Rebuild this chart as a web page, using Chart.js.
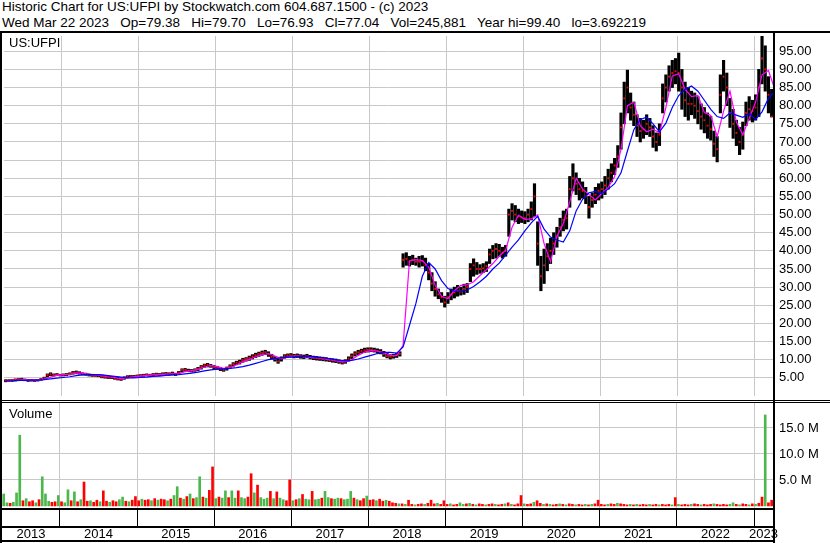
<!DOCTYPE html>
<html>
<head>
<meta charset="utf-8">
<script src="https://cdn.jsdelivr.net/npm/chart.js@4.4.0/dist/chart.umd.min.js"></script>
<style>
  body { margin: 0; background: #fff; width: 830px; height: 543px; position: relative; overflow: hidden; font-family: Arial, "Liberation Sans", sans-serif; }
  .txt { position: absolute; font-size: 13px; line-height: 15px; color: #000; white-space: pre; }
  .hd { font-size: 13.5px; }
  .ln { position: absolute; background: #000; }
  canvas { position: absolute; left: 0; }
</style>
</head>
<body>
<div class="txt hd" style="left:2px;top:-1px">Historic Chart for US:UFPI by Stockwatch.com 604.687.1500 - (c) 2023</div>
<div class="txt hd" style="left:2px;top:15px">Wed Mar 22 2023   Op=79.38   Hi=79.70   Lo=76.93   Cl=77.04   Vol=245,881   Year hi=99.40   lo=3.692219</div>

<canvas id="price" width="830" height="368" style="top:32px"></canvas>
<canvas id="vol" width="830" height="140" style="top:403px"></canvas>

<div class="txt" style="left:9px;top:35px">US:UFPI</div>
<div class="txt" style="left:9px;top:406px">Volume</div>

<!-- frame -->
<div class="ln" style="left:0;top:31px;width:830px;height:2px"></div>
<div class="ln" style="left:0;top:31px;width:2px;height:512px"></div>
<div class="ln" style="left:773px;top:31px;width:2px;height:512px"></div>
<div class="ln" style="left:0;top:400px;width:830px;height:1px"></div>
<div class="ln" style="left:0;top:402px;width:830px;height:1px"></div>
<div class="ln" style="left:0;top:508px;width:775px;height:2px"></div>
<div class="ln" style="left:0;top:526px;width:775px;height:2px"></div>
<div class="ln" style="left:0;top:540px;width:775px;height:2px"></div>

<script>
// x axis range in years
const xMin = 2013.248, xMax = 2023.246;
const yearTicks = [2014, 2015, 2016, 2017, 2018, 2019, 2020, 2021, 2022, 2023];
const yearLabels = ['2013', '2014', '2015', '2016', '2017', '2018', '2019', '2020', '2021', '2022', '2023'];
const priceTicks = [5, 10, 15, 20, 25, 30, 35, 40, 45, 50, 55, 60, 65, 70, 75, 80, 85, 90, 95];
const volTicks = [5, 10, 15];

// half-month bars starting mid March 2013
const barStart = 2013.27, barStep = 1 / 24;
const priceLo = [
  3.9,4.0,4.0,4.1,4.2,4.3,4.2,4.0,4.1,4.0,4.1,4.3,4.5,5.2,5.6,5.5,5.6,5.5,
  5.5,5.6,5.8,6.0,6.1,6.0,5.8,5.7,5.5,5.4,5.4,5.3,5.0,4.9,4.8,4.8,4.6,4.4,4.3,4.6,5.0,5.2,5.1,5.2,
  5.3,5.4,5.5,5.4,5.6,5.7,5.6,5.7,5.8,5.7,5.8,5.6,6.0,6.6,6.8,6.7,6.6,6.8,7.0,7.4,7.9,8.0,7.9,7.5,
  7.3,7.0,6.8,7.1,7.6,8.2,8.6,8.8,9.3,9.6,9.8,10.2,10.6,10.9,11.2,11.4,10.9,10.2,9.6,9.0,9.6,10.4,10.6,10.7,
  10.5,10.6,10.4,10.3,10.5,10.2,10.0,9.9,9.8,9.7,9.6,9.5,9.3,9.2,9.0,8.8,9.0,9.6,10.3,11.0,11.4,11.8,12.0,12.1,
  12.2,12.1,11.9,11.6,10.9,10.5,10.2,10.4,10.6,11.0,35.5,36.0,35.8,36.2,36.0,35.5,35.8,34.5,32.0,29.0,27.5,26.8,25.8,24.5,
  25.5,26.5,27.0,27.5,27.8,28.0,28.5,31.5,33.0,33.5,33.8,34.0,34.3,36.5,37.8,38.0,38.5,38.0,38.5,44.0,48.5,48.0,47.5,47.8,
  47.5,48.0,48.5,49.5,36.0,29.0,31.0,34.5,36.5,39.0,41.0,44.0,45.5,46.0,52.0,56.5,55.5,54.0,54.5,53.0,49.0,52.0,53.0,54.0,
  54.5,55.5,57.0,59.0,61.0,63.0,68.0,75.0,78.0,76.0,74.5,71.5,70.0,71.0,72.0,71.5,68.5,67.5,69.0,78.0,81.0,84.0,85.0,86.0,
  84.0,79.0,77.0,76.0,77.5,76.5,75.0,73.5,72.5,71.0,70.5,66.0,64.5,78.0,84.0,80.0,74.0,71.0,69.0,66.5,68.0,74.5,76.0,75.5,
  76.0,77.0,86.0,84.0,78.0,76.9
];
const priceHi = [
  4.5,4.5,4.6,4.7,4.8,4.9,4.7,4.6,4.6,4.5,4.6,4.8,5.2,6.1,6.4,6.1,6.2,6.0,
  6.1,6.2,6.4,6.8,6.9,6.7,6.4,6.3,6.1,6.0,5.9,5.9,5.8,5.6,5.5,5.4,5.3,5.2,5.0,5.3,5.6,5.7,5.7,5.8,
  5.9,6.0,6.1,6.0,6.2,6.3,6.2,6.4,6.5,6.4,6.6,6.3,6.8,7.5,7.6,7.4,7.3,7.5,7.9,8.4,8.8,9.0,8.7,8.4,
  8.2,7.9,7.6,8.0,8.6,9.2,9.6,9.9,10.4,10.6,11.0,11.4,11.8,12.1,12.4,12.6,12.2,11.5,10.9,10.2,10.8,11.4,11.6,11.7,
  11.5,11.6,11.4,11.3,11.5,11.2,11.0,10.9,10.8,10.7,10.6,10.4,10.3,10.2,10.0,9.7,10.0,10.8,11.6,12.2,12.6,12.9,13.2,13.3,
  13.3,13.2,13.0,12.8,12.3,11.8,11.4,11.5,11.8,12.2,39.2,39.5,38.5,38.8,38.0,38.5,38.7,38.0,36.5,34.0,31.5,29.5,28.5,27.5,
  28.5,29.5,30.0,30.5,30.0,30.8,31.0,36.5,37.8,36.8,36.2,36.5,37.0,40.5,41.5,42.0,41.8,41.0,41.5,51.5,53.0,52.5,51.5,51.0,
  50.8,51.5,53.5,58.5,48.0,38.5,40.5,42.0,43.5,45.0,46.5,49.0,51.0,51.5,60.5,64.0,61.5,60.0,59.0,57.5,55.0,56.0,57.5,58.5,
  59.0,60.5,62.5,64.0,65.5,69.0,78.0,86.5,89.8,83.5,81.0,77.5,76.5,76.0,77.5,76.5,74.5,72.5,75.0,86.0,88.5,91.0,92.5,93.0,
  94.5,90.0,86.5,85.0,84.0,83.5,82.5,80.5,79.5,78.0,77.0,73.0,71.5,88.5,92.5,89.0,82.0,79.0,76.0,74.0,75.5,81.0,82.5,81.5,
  83.0,90.0,99.4,96.5,88.0,84.5
];
const priceCl = [
  4.3,4.2,4.4,4.5,4.5,4.6,4.4,4.3,4.3,4.2,4.4,4.6,4.9,5.8,6.0,5.8,5.9,5.7,
  5.8,5.9,6.1,6.5,6.5,6.3,6.1,6.0,5.8,5.7,5.6,5.6,5.3,5.2,5.1,5.1,4.9,4.7,4.6,5.0,5.3,5.5,5.4,5.5,
  5.6,5.7,5.8,5.7,5.9,6.0,5.9,6.1,6.2,6.0,6.2,5.9,6.5,7.2,7.2,7.0,6.9,7.2,7.5,8.0,8.5,8.6,8.3,7.9,
  7.7,7.4,7.2,7.6,8.2,8.8,9.2,9.4,9.9,10.2,10.5,10.9,11.3,11.6,11.9,12.1,11.5,10.8,10.2,9.5,10.3,11.0,11.2,11.2,
  11.0,11.1,10.9,10.8,11.0,10.7,10.5,10.4,10.3,10.2,10.1,9.9,9.8,9.7,9.5,9.2,9.5,10.3,11.0,11.7,12.0,12.4,12.6,12.7,
  12.8,12.6,12.4,12.1,11.5,11.0,10.8,11.0,11.3,11.6,37.5,37.8,37.0,37.5,37.0,37.0,37.2,36.0,34.0,31.0,29.5,28.0,27.2,25.8,
  27.2,28.0,28.5,29.0,28.8,29.5,30.0,35.0,36.0,35.0,35.0,35.2,35.8,39.0,40.0,40.5,40.0,39.5,40.0,50.0,51.0,50.0,49.5,49.2,
  49.0,50.0,51.5,55.0,42.0,33.0,36.0,38.5,40.0,42.0,44.0,46.5,48.5,49.0,57.0,60.0,58.5,57.0,56.5,55.0,52.0,54.0,55.5,56.5,
  57.0,58.0,60.0,61.5,63.5,66.0,74.0,82.0,85.0,79.5,77.5,74.5,73.0,73.5,75.0,74.0,71.5,70.0,72.0,82.0,85.0,88.0,89.0,89.5,
  89.0,85.0,81.5,80.5,80.5,80.0,78.5,77.0,76.0,74.5,73.5,69.5,68.0,83.0,88.0,85.0,78.0,75.0,72.5,70.0,72.0,78.0,79.0,78.5,
  79.5,85.0,93.0,90.0,83.0,77.0
];

// moving averages, one value per month
const maStep = 1 / 12;
const maFast = [
  4.2,4.3,4.4,4.5,4.4,4.4,4.6,5.2,5.7,5.9,6.0,6.3,6.3,6.0,5.8,5.6,5.3,5.1,4.8,5.0,
  5.3,5.5,5.7,5.8,5.9,6.0,6.1,6.2,6.7,7.0,7.3,8.0,8.4,8.1,7.6,7.8,8.6,9.4,10.1,10.8,
  11.4,11.7,11.0,10.3,10.7,11.0,11.0,10.8,10.6,10.4,10.2,9.9,9.6,9.4,10.0,11.2,12.1,12.5,12.4,11.9,
  11.2,11.1,14.0,37.2,37.6,37.3,35.5,30.5,27.5,26.8,29.0,30.5,30.6,31.5,33.2,34.8,36.5,38.5,40.2,46.5,
  49.8,48.7,48.8,49.8,42.0,37.0,44.0,47.5,53.5,60.0,57.0,55.5,54.0,55.8,57.5,60.5,68.0,80.0,81.0,74.5,
  72.8,73.5,72.5,79.5,88.2,88.8,84.5,82.5,82.8,78.1,77.3,71.5,78.5,84.0,75.5,72.0,76.5,81.0,88.5,89.7,
  84.5
];
const maSlow = [
  4.2,4.2,4.3,4.3,4.4,4.4,4.5,4.7,4.9,5.1,5.3,5.6,5.8,5.9,5.9,5.8,5.6,5.4,5.2,5.0,
  5.0,5.1,5.2,5.4,5.5,5.7,5.8,5.9,6.1,6.3,6.6,6.9,7.2,7.4,7.5,7.6,7.8,8.1,8.5,9.0,
  9.5,10.0,10.3,10.5,10.7,10.8,10.9,10.9,10.8,10.6,10.4,10.1,9.8,9.7,9.8,10.2,10.7,11.2,11.7,12.0,
  12.0,11.8,13.5,19.5,25.5,33.0,36.8,35.0,31.8,29.6,28.9,28.8,29.2,30.2,31.5,33.0,35.0,36.6,38.8,41.0,
  43.0,45.5,47.7,49.5,46.0,43.8,43.0,42.4,45.5,51.0,54.2,56.0,56.4,55.8,57.0,58.5,61.5,67.5,73.4,76.2,
  76.8,75.0,72.8,75.2,79.5,82.8,84.5,85.4,84.0,81.5,79.0,77.0,76.5,78.0,77.4,76.8,77.8,76.2,78.3,82.0,
  84.0
];

// volume in millions, same half-month bars; g = up, r = down
const volume = [
  2.3,0.6,0.5,0.7,2.5,13.6,1.0,1.4,0.8,1.0,0.6,1.2,5.6,2.3,0.9,0.7,0.8,2.0,
  0.8,0.6,3.1,1.0,2.7,0.8,1.2,4.6,0.9,1.0,0.7,1.1,0.8,2.9,0.9,0.7,1.0,0.8,1.2,1.7,0.9,0.8,1.1,1.8,
  1.0,1.3,1.1,1.2,1.0,1.4,1.1,1.3,1.2,1.0,1.3,2.0,3.7,1.5,1.3,1.8,2.3,1.4,1.6,5.6,1.7,1.5,3.0,7.5,
  1.4,1.7,1.5,2.9,1.6,2.9,1.5,2.9,1.6,1.4,1.7,6.2,2.5,4.0,1.6,1.3,1.5,2.8,1.4,2.7,1.5,1.2,1.0,5.0,
  1.0,1.2,1.4,2.2,1.3,1.2,2.8,1.2,1.3,1.5,2.8,1.6,1.4,1.3,1.5,1.4,1.2,1.3,2.8,1.5,1.2,1.0,1.4,1.9,
  1.1,1.2,1.0,1.3,0.9,1.1,0.9,0.6,0.5,0.4,0.4,0.3,1.1,0.3,0.2,0.3,0.4,0.3,0.5,1.1,0.4,0.5,0.3,1.0,
  0.3,0.4,0.2,0.3,0.6,0.3,0.4,0.5,0.3,0.2,0.4,0.3,0.2,0.3,0.4,0.3,0.2,0.3,0.4,0.6,0.3,0.2,0.4,2.0,
  0.4,0.3,0.4,0.7,1.0,0.5,0.3,0.4,0.3,0.2,0.3,0.4,0.3,0.2,0.4,0.3,0.2,0.3,0.2,0.3,0.2,0.3,0.4,1.1,
  0.3,0.2,0.3,0.4,0.3,0.5,0.4,0.3,0.2,0.3,0.2,0.3,0.2,0.3,0.2,0.3,0.2,0.3,0.2,0.3,0.2,0.3,0.2,1.6,
  0.3,0.2,0.3,0.2,0.3,0.4,0.3,0.2,0.3,0.2,0.3,0.4,0.3,0.2,0.3,0.2,0.3,0.6,0.3,0.2,0.4,0.3,0.2,0.4,
  0.3,0.5,1.7,17.5,0.6,1.1
];
const volDir =
  'ggrgggrgrrgrgggrrg' +
  'rggrgrgrrgrrgrrgrrggrgrr' +
  'rgrrgrgrrgrggrgrgrggrgrr' +
  'grggrggrggrrgrgggrgrggrr' +
  'grgrggrggrggrggrgggrgrrg' +
  'rrgrrgrrrgrgrrgrrgrrrgrr' +
  'rgrrggrgrgrrgrrgrrgrgrrr' +
  'grrgrrgrgrrgrgrrgrrgrgrr' +
  'rrgrrgrrrgrgrrrgrrgrrrgr' +
  'grrrgrrgrrrgrrrrggrgrrgr' +
  'grrgrr';

const FONT = { family: 'Arial, "Liberation Sans", sans-serif', size: 13 };
const GRID = '#c8c8c8';

const barX = i => barStart + i * barStep;
const maX = i => barStart + i * maStep;
const yearTicksOf = () => yearTicks.map(v => ({ value: v }));
// label positions: middle of the visible part of each year
const labelPos = yearLabels.map(y => (Math.max(+y, xMin) + Math.min(+y + 1, xMax)) / 2);

// keep the plot area exactly where the canvas is: no label padding
function noPad(s) {
  s.paddingTop = 0; s.paddingBottom = 0; s.paddingLeft = 0; s.paddingRight = 0;
}

new Chart(document.getElementById('price'), {
  type: 'bar',
  data: {
    datasets: [
      { type: 'line', data: maSlow.map((v, i) => ({ x: maX(i), y: v })), borderColor: '#0000ff', borderWidth: 1.2, pointRadius: 0, tension: 0, order: 1 },
      { type: 'line', data: maFast.map((v, i) => ({ x: maX(i), y: v })), borderColor: '#ff00ff', borderWidth: 1.2, pointRadius: 0, tension: 0, order: 2 },
      { type: 'scatter', data: priceCl.map((v, i) => ({ x: barX(i), y: v })), backgroundColor: '#ff0000', borderWidth: 0, pointStyle: 'rect', pointRadius: 1.3, order: 3 },
      { type: 'bar', data: priceHi.map((h, i) => ({ x: barX(i), y: [priceLo[i], h] })), backgroundColor: '#000000', barThickness: 2.5, order: 4 }
    ]
  },
  options: {
    responsive: false,
    animation: false,
    layout: { padding: { left: 2, top: 0, bottom: 0, right: 0 } },
    plugins: { legend: { display: false }, tooltip: { enabled: false } },
    scales: {
      x: {
        type: 'linear', min: xMin, max: xMax, offset: false,
        afterBuildTicks: s => { s.ticks = yearTicksOf(); },
        afterFit: s => { s.height = 0; noPad(s); },
        ticks: { display: false },
        grid: { color: GRID, drawTicks: false, offset: false },
        border: { display: false }
      },
      y: {
        position: 'right', min: 0, max: 99.2,
        afterBuildTicks: s => { s.ticks = priceTicks.map(v => ({ value: v })); },
        afterFit: s => { s.width = 57; noPad(s); },
        ticks: { callback: v => v.toFixed(2), color: '#000', font: FONT, padding: 6 },
        grid: { color: GRID, drawTicks: false },
        border: { display: false }
      }
    }
  }
});

new Chart(document.getElementById('vol'), {
  type: 'bar',
  data: {
    datasets: [{
      data: volume.map((v, i) => ({ x: barX(i), y: v })),
      backgroundColor: volDir.split('').map(c => c === 'g' ? '#4cb84c' : '#ff0000'),
      barThickness: 2
    }]
  },
  options: {
    responsive: false,
    animation: false,
    layout: { padding: { left: 2, top: 0, bottom: 0, right: 0 } },
    plugins: { legend: { display: false }, tooltip: { enabled: false } },
    scales: {
      x: {
        type: 'linear', min: xMin, max: xMax, offset: false, weight: 0,
        afterBuildTicks: s => { s.ticks = yearTicksOf(); },
        afterFit: s => { s.height = 18; noPad(s); },
        ticks: { display: false },
        grid: { color: GRID, tickColor: '#000', tickLength: 18, offset: false },
        border: { display: false }
      },
      xl: {
        type: 'linear', position: 'bottom', min: xMin, max: xMax, offset: false, weight: 1,
        afterBuildTicks: s => { s.ticks = labelPos.map(v => ({ value: v })); },
        afterFit: s => { s.height = 17; noPad(s); },
        ticks: { callback: (v, i) => yearLabels[i], autoSkip: false, maxRotation: 0, color: '#000', font: FONT, padding: 1 },
        grid: { display: false, drawTicks: false, tickLength: 0, offset: false },
        border: { display: false }
      },
      y: {
        position: 'right', min: -0.4, max: 19.8,
        afterBuildTicks: s => { s.ticks = volTicks.map(v => ({ value: v })); },
        afterFit: s => { s.width = 57; noPad(s); },
        ticks: { callback: v => v.toFixed(1) + ' M', color: '#000', font: FONT, padding: 6 },
        grid: { color: GRID, drawTicks: false },
        border: { display: false }
      }
    }
  }
});
</script>
</body>
</html>
